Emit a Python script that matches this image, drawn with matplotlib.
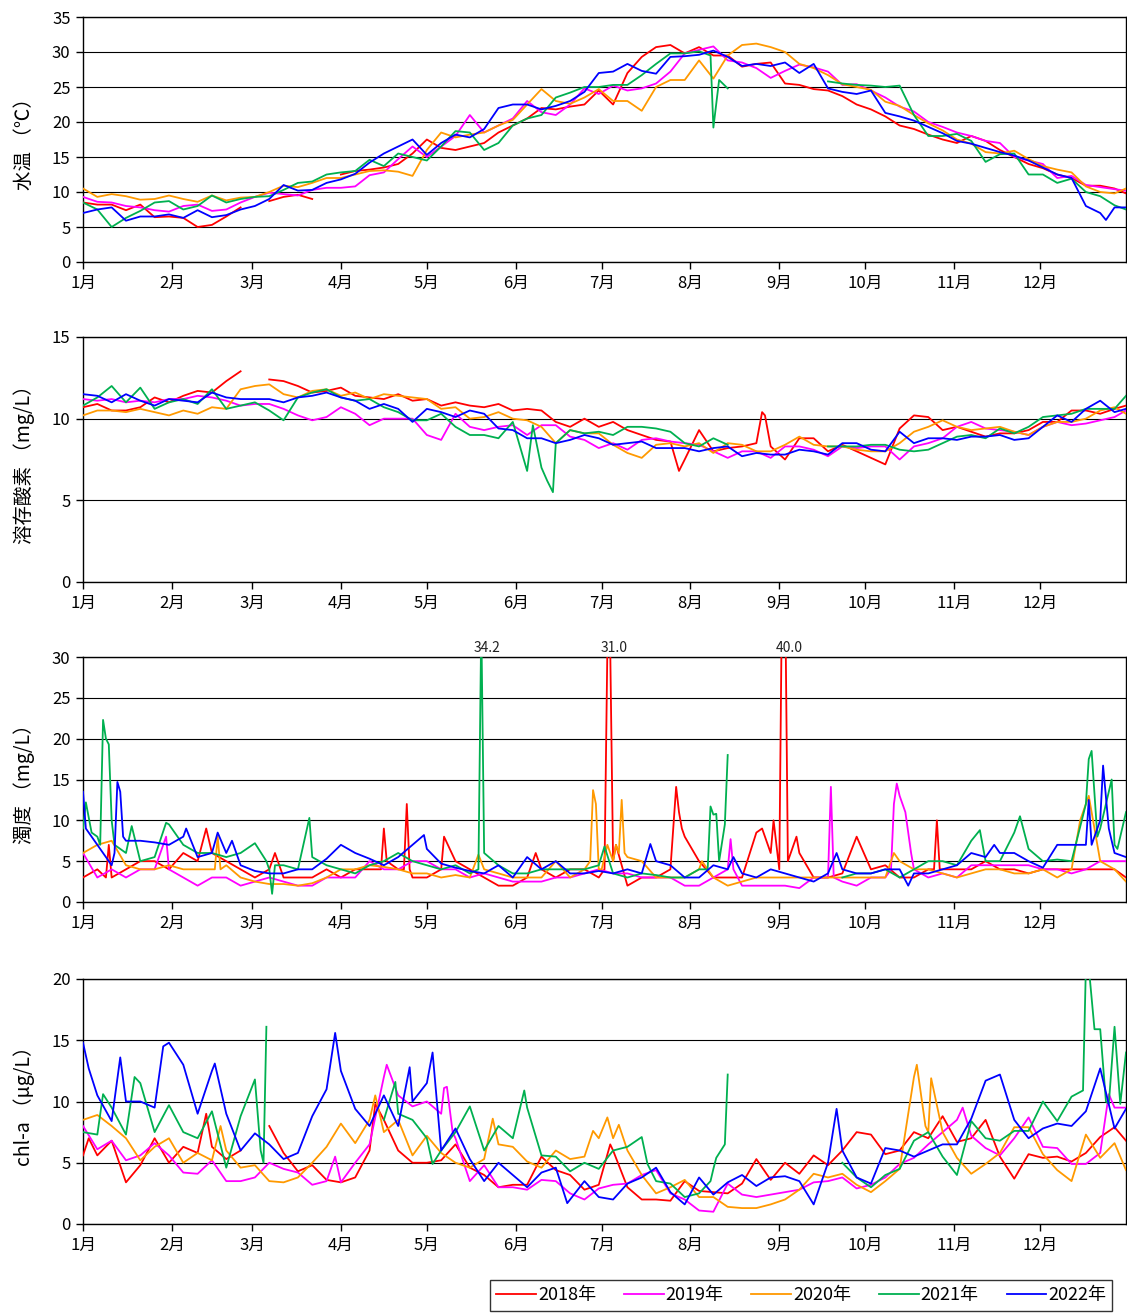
import numpy as np
import matplotlib
matplotlib.use('Agg')
import matplotlib.pyplot as plt

plt.rcParams['font.family'] = ['Noto Sans CJK JP', 'DejaVu Sans']

nan = np.nan
# sample days: every 5 days from Jan 1 (day 0) plus Dec 31 (day 364)
DAYS = np.append(np.arange(0, 361, 5), 364)

years = ['2018年', '2019年', '2020年', '2021年', '2022年']
colors = ['#FF0000', '#FF00FF', '#FF9900', '#00B050', '#0000FF']
month_days = [0, 31, 59, 90, 120, 151, 181, 212, 243, 273, 304, 334]
month_labels = ['1月', '2月', '3月', '4月', '5月', '6月', '7月', '8月', '9月', '10月', '11月', '12月']

# ---- 水温 ----
wt_2018 = [8.5, 8.2, 8.2, 7.4, 8.2, 6.4, 6.5, 6.3, 5.0, 5.3,
           6.5, 7.8, nan, 8.7, 9.3, 9.6, 9.0, nan, 12.5, 13.0,
           13.2, 13.5, 14.0, 15.5, 17.5, 16.3, 16.0, 16.5, 17.0, 18.5,
           19.5, 20.5, 22.0, 21.8, 22.2, 22.5, 24.5, 22.5, 27.0, 29.3,
           30.7, 31.0, 29.8, 30.7, 29.5, 29.5, 27.9, 28.3, 28.5, 25.5,
           25.3, 24.7, 24.5, 23.7, 22.5, 21.8, 20.8, 19.5, 19.0, 18.2,
           17.5, 17.0, 18.0, 17.3, 16.0, 15.0, 14.0, 13.4, 12.5, 12.0,
           10.9, 10.9, 10.5, 9.8]
wt_2019 = [9.3, 8.6, 8.5, 8.0, 7.8, 7.4, 7.2, 8.0, 8.2, 7.3,
           7.5, 8.5, 9.3, 9.9, 9.7, 9.5, 10.3, 10.6, 10.6, 10.8,
           12.4, 12.8, 14.7, 16.5, 15.0, 16.5, 18.0, 21.0, 18.5, 19.5,
           20.5, 23.0, 21.4, 21.0, 22.5, 24.8, 24.0, 25.2, 24.5, 24.8,
           25.5, 27.2, 29.8, 30.3, 30.8, 28.8, 28.5, 27.7, 26.3, 27.3,
           28.2, 27.8, 27.2, 25.3, 25.4, 24.5, 23.5, 22.2, 21.5, 20.0,
           19.3, 18.5, 18.0, 17.3, 17.0, 15.0, 14.5, 14.0, 12.0, 12.3,
           11.0, 10.7, 10.4, 10.2]
wt_2020 = [10.5, 9.3, 9.7, 9.4, 8.9, 9.0, 9.5, 9.0, 8.6, 9.5,
           8.8, 9.2, 9.3, 10.0, 10.9, 10.7, 11.3, 12.0, 12.0, 12.5,
           13.0, 13.1, 12.9, 12.3, 16.0, 18.5, 17.8, 18.2, 18.5, 19.5,
           20.3, 22.5, 24.7, 23.0, 22.6, 23.5, 24.7, 23.0, 23.0, 21.6,
           25.0, 26.0, 26.0, 28.8, 26.2, 29.5, 31.0, 31.2, 30.7, 30.0,
           28.3, 27.7, 26.7, 25.4, 25.0, 24.6, 22.9, 22.3, 21.0, 19.8,
           18.8, 17.5, 16.9, 15.7, 15.5, 15.9, 14.7, 13.7, 13.2, 12.8,
           10.8, 10.0, 9.8, 10.5]
wt_2021 = [8.5, 7.5, 5.0, 6.3, 7.3, 8.5, 8.7, 7.5, 8.0, 9.5,
           8.5, 9.0, 9.3, 9.4, 10.3, 11.3, 11.5, 12.5, 12.8, 13.0,
           14.6, 13.7, 15.5, 15.0, 14.5, 16.5, 18.7, 18.5, 16.0, 17.0,
           19.5, 20.5, 21.0, 23.5, 24.2, 25.0, 25.0, 25.3, 25.3, 26.7,
           28.3, 29.8, 29.8, 30.1, 19.2, 24.8, nan, nan, nan, nan,
           nan, nan, 25.8, 25.5, 25.3, 25.2, 25.0, 25.2, 21.0, 18.0,
           18.0, 18.3, 17.3, 14.3, 15.4, 15.5, 12.5, 12.5, 11.3, 11.9,
           10.0, 9.4, 8.1, 7.5]
wt_2021_pk = [(219, 29.5), (222, 26.0)]
wt_2022 = [7.0, 7.5, 7.8, 5.9, 6.5, 6.5, 6.8, 6.3, 7.4, 6.4,
           6.7, 7.5, 8.0, 9.0, 11.0, 10.2, 10.3, 11.3, 11.8, 12.6,
           14.2, 15.5, 16.5, 17.5, 15.3, 17.0, 18.2, 17.8, 19.0, 22.0,
           22.5, 22.5, 21.8, 22.3, 23.0, 24.3, 27.0, 27.2, 28.3, 27.3,
           26.9, 29.3, 29.4, 29.6, 30.2, 29.3, 28.0, 28.3, 28.0, 28.5,
           27.0, 28.3, 24.8, 24.3, 24.0, 24.5, 21.3, 20.8, 20.2, 19.3,
           18.4, 17.3, 16.9, 16.3, 15.7, 15.2, 14.5, 13.5, 12.5, 12.0,
           8.0, 7.0, 7.8, 7.8]
wt_2022_pk = [(357, 6.0)]

# ---- 溶存酸素 ----
do_2018 = [10.7, 10.9, 10.5, 10.5, 10.7, 11.3, 11.0, 11.4, 11.7, 11.6,
           12.3, 12.9, nan, 12.4, 12.3, 12.0, 11.6, 11.7, 11.9, 11.4,
           11.3, 11.2, 11.5, 11.1, 11.2, 10.8, 11.0, 10.8, 10.7, 10.9,
           10.5, 10.6, 10.5, 9.8, 9.5, 10.0, 9.5, 9.8, 9.3, 9.0,
           8.7, 8.6, 7.5, 9.3, 8.0, 8.2, 8.3, 8.5, 8.3, 7.5,
           8.8, 8.8, 8.0, 8.4, 8.0, 7.6, 7.2, 9.4, 10.2, 10.1,
           9.3, 9.5, 9.2, 8.9, 9.1, 9.1, 9.3, 9.8, 9.8, 10.5,
           10.5, 10.3, 10.6, 10.8]
do_2018_pk = [(208, 6.8), (237, 10.4), (238, 10.2)]
do_2019 = [11.2, 11.1, 11.2, 11.0, 11.1, 11.0, 11.2, 11.2, 11.4, 11.3,
           11.1, 10.8, 10.9, 10.9, 10.6, 10.2, 9.9, 10.1, 10.7, 10.3,
           9.6, 10.0, 10.0, 10.0, 9.0, 8.7, 10.3, 9.5, 9.3, 9.5,
           9.6, 9.0, 9.6, 9.6, 8.9, 8.7, 8.2, 8.5, 8.1, 8.7,
           8.8, 8.6, 8.5, 8.4, 8.0, 7.6, 8.0, 8.0, 7.6, 8.3,
           8.3, 8.1, 7.7, 8.3, 8.2, 8.3, 8.3, 7.5, 8.3, 8.5,
           8.8, 9.5, 9.8, 9.4, 9.3, 9.2, 9.0, 9.5, 9.8, 9.6,
           9.7, 9.9, 10.1, 10.5]
do_2020 = [10.2, 10.5, 10.5, 10.4, 10.6, 10.4, 10.2, 10.5, 10.3, 10.7,
           10.6, 11.8, 12.0, 12.1, 11.5, 11.3, 11.7, 11.8, 11.4, 11.6,
           11.2, 11.5, 11.4, 11.3, 11.2, 10.6, 10.7, 10.0, 10.1, 10.4,
           10.0, 9.9, 9.5, 8.5, 9.3, 9.1, 9.1, 8.4, 7.9, 7.6,
           8.4, 8.5, 8.3, 8.5, 7.9, 8.5, 8.4, 8.0, 8.0, 8.4,
           8.9, 8.4, 8.3, 8.3, 8.1, 8.0, 8.0, 8.5, 9.2, 9.5,
           9.9, 9.5, 9.3, 9.4, 9.5, 9.2, 9.0, 9.5, 9.8, 9.8,
           10.0, 10.5, 10.7, 10.3]
do_2021 = [10.8, 11.3, 12.0, 11.0, 11.9, 10.6, 11.0, 11.2, 10.9, 11.8,
           10.6, 10.8, 11.0, 10.5, 9.9, 11.3, 11.6, 11.8, 11.3, 11.1,
           11.2, 10.7, 10.4, 9.9, 9.9, 10.3, 9.5, 9.0, 9.0, 8.8,
           9.8, 6.8, 7.0, 8.5, 9.3, 9.1, 9.2, 9.0, 9.5, 9.5,
           9.4, 9.2, 8.5, 8.3, 8.8, 8.4, nan, nan, nan, nan,
           nan, nan, 8.3, 8.3, 8.3, 8.4, 8.4, 8.1, 8.0, 8.1,
           8.5, 8.9, 9.0, 8.8, 9.4, 9.1, 9.5, 10.1, 10.2, 10.3,
           10.6, 10.6, 10.6, 11.4]
do_2021_pk = [(157, 9.6), (162, 6.2), (164, 5.5)]
do_2022 = [11.5, 11.4, 11.0, 11.5, 11.1, 10.8, 11.2, 11.1, 11.0, 11.6,
           11.3, 11.2, 11.2, 11.2, 11.0, 11.3, 11.4, 11.6, 11.3, 11.1,
           10.6, 10.9, 10.6, 9.8, 10.6, 10.4, 10.1, 10.5, 10.3, 9.4,
           9.3, 8.8, 8.8, 8.5, 8.7, 9.0, 8.8, 8.4, 8.5, 8.6,
           8.2, 8.2, 8.2, 8.0, 8.2, 8.3, 7.7, 7.9, 7.8, 7.8,
           8.1, 8.0, 7.8, 8.5, 8.5, 8.1, 8.0, 9.2, 8.5, 8.8,
           8.8, 8.7, 8.9, 8.9, 9.0, 8.7, 8.8, 9.5, 10.2, 9.8,
           10.6, 11.1, 10.4, 10.6]

# ---- 濁度 ----
tb_2018 = [3, 4, 4, 4, 5, 5, 4, 6, 5, 6,
           5, 4, 3, 4, 3, 3, 3, 4, 3, 4,
           4, 5, 4, 3, 3, 4, 5, 4, 3, 2,
           2, 3, 4, 3, 4, 4, 3, 5, 2, 3,
           3, 4, 8, 5, 3, 3, 3, 8.5, 6, 3,
           6, 3, 3, 3.5, 7.5, 4, 4.5, 3, 3, 4,
           4, 4, 4, 5, 4, 4, 3.5, 4, 4, 4,
           4, 4, 4, 3]
tb_2018_pk = [(8, 3), (9, 7), (10, 3), (43, 9), (67, 6), (104, 4), (105, 9), (106, 5),
              (112, 4), (113, 12), (114, 4), (126, 8), (158, 6), (182, 4), (183, 31.0),
              (184, 31.0), (186, 7), (207, 14.1), (208, 11), (209, 9), (237, 9), (241, 10),
              (243, 4), (244, 40.0), (245, 40.0), (246, 5), (249, 8), (270, 8),
              (297, 4), (298, 10), (299, 4)]
tb_2019 = [6, 3, 4, 3, 4, 4, 4, 3, 2, 3,
           3, 2, 2.5, 3, 2.5, 2, 2, 3, 3, 3,
           5, 4, 4, 5, 5, 4, 4, 3, 3.5, 3,
           2.5, 2.5, 2.5, 3, 3, 3.5, 4, 3.5, 3.5, 3,
           3, 3, 2, 2, 3, 6, 2, 2, 2, 2,
           1.7, 3, 3, 2.5, 2, 3, 3, 13, 4, 3,
           3.5, 3, 4.5, 4.5, 4.5, 4.5, 4.5, 4, 4, 3.5,
           4, 5, 5, 5]
tb_2019_pk = [(29, 8), (225, 4), (226, 7.7), (227, 4), (260, 3), (261, 14.1), (262, 3),
              (282, 4), (283, 12), (284, 14.5), (287, 11), (289, 6)]
tb_2020 = [6, 7, 7.5, 4.5, 4, 4, 4.5, 4, 4, 4,
           4.5, 3, 2.5, 2.2, 2.2, 2, 2.3, 3, 4, 4,
           4.5, 4.3, 4, 3.5, 3.5, 3, 3.3, 3, 4, 3.5,
           3, 3, 3, 5, 3, 4, 4, 5, 5.5, 5,
           3, 3, 3, 4, 3, 2, 2.5, 3, 3, 3,
           3, 3, 3, 3, 3, 3, 3, 5, 4, 4,
           3.5, 3, 3.5, 4, 4, 3.5, 3.5, 4, 3, 4,
           12, 5, 4, 2.5]
tb_2020_pk = [(46, 4), (47, 8), (48, 4), (138, 5.8), (177, 5), (178, 13.7), (179, 12.0),
              (181, 4), (183, 7), (186, 7), (187, 6), (188, 12.5), (189, 6), (216, 5),
              (283, 6), (348, 10), (351, 13)]
tb_2021 = [9, 8, 10, 6, 5, 5.5, 9.5, 7, 6, 6,
           5.5, 6, 7.2, 4, 4.5, 4, 5.5, 4.5, 4, 3.5,
           4.5, 5, 6, 5, 4.5, 4, 4.5, 3.5, 6, 4.5,
           3.5, 3.5, 4, 4, 4, 4, 4.5, 3.5, 3, 3.5,
           3.3, 3, 3, 4, 10.7, 18, nan, nan, nan, nan,
           nan, nan, nan, 3, 3.5, 3.5, 4, 3, 4, 5,
           5, 4.5, 7.5, 5, 5, 8.5, 6.5, 5, 5.2, 5,
           12, 9, 7, 11]
tb_2021_pk = [(1, 12.2), (3, 8.5), (6, 7), (7, 22.3), (8, 20.0), (9, 19.3), (11, 7),
              (17, 9.3), (29, 9.7), (64, 5), (66, 1.0), (67, 4.5), (79, 10.3),
              (138, 4), (139, 34.2), (140, 6), (182, 6.8), (218, 4), (219, 11.7),
              (221, 10.8), (222, 5), (224, 9.5), (313, 8.8), (327, 10.5),
              (351, 17.5), (352, 18.5), (354, 8), (359, 15), (361, 6.5)]
tb_2022 = [13.5, 7, 4.5, 7.5, 7.5, 7.3, 7, 8, 5.5, 6,
           6, 4.5, 3.8, 3.5, 3.5, 4, 4, 5.3, 7, 6,
           5.3, 4.5, 5.5, 7, 6.5, 4.7, 4.2, 3.8, 3.5, 4.5,
           3, 5.5, 4, 5, 3.5, 3.5, 3.8, 3.5, 4, 3.5,
           5, 4.5, 3, 3, 4.5, 4, 3.5, 3, 4, 3.5,
           3, 2.5, 3.5, 4, 3.5, 3.5, 4, 4, 3.5, 3.5,
           4, 4.5, 6, 5.5, 6, 6, 5, 4.2, 7, 7,
           6.5, 10, 6, 5.5]
tb_2022_pk = [(1, 9), (11, 6), (12, 14.7), (13, 13.5), (14, 8), (36, 9), (47, 8.5),
              (52, 7.5), (119, 8.2), (198, 7.1), (227, 5.5), (263, 6), (288, 2),
              (318, 7), (350, 7), (351, 12.5), (352, 7), (354, 9), (356, 16.7), (358, 9)]

# ---- chl-a ----
ch_2018 = [5.6, 5.6, 6.8, 3.5, 4.8, 7.0, 5.0, 6.3, 5.8, 6.3,
           5.3, 6.0, nan, 8.0, 5.8, 4.3, 4.8, 3.6, 3.4, 3.8,
           6.0, 8.5, 6.0, 5.0, 5.0, 5.2, 6.5, 4.6, 4.0, 3.0,
           3.2, 3.2, 5.5, 4.4, 4.0, 2.8, 3.2, 6.0, 3.0, 2.0,
           2.0, 1.9, 3.5, 2.7, 2.6, 2.5, 3.3, 5.3, 3.6, 5.0,
           4.1, 5.6, 4.8, 6.0, 7.5, 7.3, 5.7, 6.0, 7.5, 7.0,
           8.8, 6.7, 7.0, 8.5, 5.5, 3.7, 5.7, 5.4, 5.5, 5.1,
           5.8, 7.1, 7.9, 6.8]
ch_2018_pk = [(2, 7.0), (15, 3.4), (43, 9.0), (102, 9.8), (184, 6.5)]
ch_2019 = [8.0, 6.1, 6.8, 5.2, 5.6, 6.6, 5.6, 4.2, 4.1, 5.2,
           3.5, 3.5, 3.8, 5.0, 4.5, 4.2, 3.2, 3.5, 3.4, 5.0,
           6.5, 12.0, 10.5, 9.6, 10.0, 9.0, 7.0, 3.5, 4.8, 3.0,
           3.0, 2.8, 3.6, 3.5, 2.5, 2.0, 2.9, 3.2, 3.3, 4.0,
           4.4, 2.5, 2.0, 1.1, 1.0, 3.3, 2.4, 2.2, 2.4, 2.6,
           2.8, 3.4, 3.5, 3.8, 2.9, 3.2, 3.8, 4.9, 5.4, 6.5,
           7.5, 8.5, 7.2, 6.2, 5.6, 7.0, 8.7, 6.3, 6.2, 4.9,
           4.9, 5.8, 9.5, 9.5]
ch_2019_pk = [(88, 5.5), (106, 13.0), (126, 11.1), (127, 11.2), (129, 7.5), (307, 9.5), (358, 10.6)]
ch_2020 = [8.5, 8.9, 8.0, 7.0, 5.2, 6.3, 7.0, 5.0, 5.8, 5.2,
           6.0, 4.6, 4.8, 3.5, 3.4, 3.8, 5.0, 6.3, 8.2, 6.6,
           8.5, 7.5, 8.5, 5.6, 7.2, 5.8, 5.0, 4.6, 5.3, 6.5,
           6.3, 5.1, 4.6, 6.0, 5.3, 5.5, 7.0, 7.0, 6.0, 4.0,
           2.5, 3.0, 3.6, 2.2, 2.2, 1.4, 1.3, 1.3, 1.6, 2.0,
           2.8, 4.1, 3.8, 4.1, 3.2, 2.6, 3.5, 4.5, 12.0, 7.5,
           7.5, 5.4, 4.1, 4.9, 5.8, 7.9, 7.9, 5.7, 4.4, 3.5,
           7.3, 5.4, 6.6, 4.4]
ch_2020_pk = [(48, 8.0), (102, 10.5), (143, 8.6), (178, 7.6), (183, 8.7), (187, 8.1),
              (291, 13.0), (294, 8.0), (296, 11.9)]
ch_2021 = [7.5, 7.3, 9.5, 7.3, 11.5, 7.5, 9.0, 7.5, 7.0, 9.2,
           4.6, 8.8, 11.8, nan, nan, nan, nan, nan, nan, nan,
           nan, 8.5, 9.0, 8.5, 7.0, 6.0, 7.5, 9.6, 6.0, 8.0,
           7.0, 9.5, 5.6, 5.5, 4.3, 5.0, 4.5, 6.0, 6.3, 7.1,
           3.5, 3.3, 2.2, 2.5, 4.5, 12.2, nan, nan, nan, nan,
           nan, nan, nan, 5.0, 3.8, 3.0, 4.0, 4.5, 6.8, 7.5,
           5.5, 4.0, 8.4, 7.0, 6.8, 7.6, 7.6, 10.0, 8.4, 10.4,
           21.0, 15.9, 16.1, 14.0]
ch_2021_pk = [(7, 10.6), (18, 12.0), (30, 9.7), (62, 6.0), (63, 5.0), (64, 16.1),
              (109, 11.6), (122, 4.9), (154, 10.9), (197, 4.9), (219, 3.5), (221, 5.4),
              (224, 6.5), (349, 10.9), (351, 21.0), (353, 15.9), (357, 10.0),
              (358, 9.8), (362, 9.8)]
ch_2022 = [14.8, 10.5, 8.4, 10.0, 10.0, 9.5, 14.8, 13.0, 9.0, 12.5,
           9.0, 6.0, 7.4, 6.5, 5.3, 5.8, 8.8, 11.0, 12.5, 9.4,
           8.0, 10.5, 8.0, 10.0, 11.5, 6.0, 7.8, 5.3, 3.5, 5.0,
           4.0, 3.0, 4.2, 4.6, 2.0, 3.5, 2.2, 2.0, 3.3, 3.8,
           4.6, 2.6, 1.6, 3.8, 2.4, 3.4, 4.0, 3.1, 3.8, 3.9,
           3.5, 1.6, 5.0, 6.0, 3.8, 3.3, 6.2, 6.0, 5.5, 6.0,
           6.5, 6.5, 8.6, 11.7, 12.2, 8.5, 7.0, 7.8, 8.2, 8.0,
           9.2, 12.7, 7.8, 9.4]
ch_2022_pk = [(2, 12.7), (13, 13.6), (28, 14.5), (46, 13.1), (88, 15.6), (114, 12.8),
              (122, 14.0), (169, 1.7), (263, 9.4)]


def build(base, peaks=()):
    d = [int(x) for x in DAYS]
    v = list(base)
    for dd, vv in peaks:
        if dd in d:
            v[d.index(dd)] = vv
        else:
            d.append(dd)
            v.append(vv)
    order = np.argsort(d)
    return np.asarray(d)[order], np.asarray(v, dtype=float)[order]


panels = [
    ([(wt_2018, ()), (wt_2019, ()), (wt_2020, ()), (wt_2021, wt_2021_pk), (wt_2022, wt_2022_pk)],
     '水温 （℃）', 35),
    ([(do_2018, do_2018_pk), (do_2019, ()), (do_2020, ()), (do_2021, do_2021_pk), (do_2022, ())],
     '溶存酸素 （mg/L）', 15),
    ([(tb_2018, tb_2018_pk), (tb_2019, tb_2019_pk), (tb_2020, tb_2020_pk), (tb_2021, tb_2021_pk),
      (tb_2022, tb_2022_pk)], '濁度 （mg/L）', 30),
    ([(ch_2018, ch_2018_pk), (ch_2019, ch_2019_pk), (ch_2020, ch_2020_pk), (ch_2021, ch_2021_pk),
      (ch_2022, ch_2022_pk)], 'chl-a （μg/L）', 20),
]
# labels for values beyond the turbidity axis
over_labels = [(139, '34.2'), (183.5, '31.0'), (244.5, '40.0')]

W, H = 1127, 1314
fig = plt.figure(figsize=(W / 100, H / 100), dpi=100)
tops = [17, 337, 657, 979]
axes = []
for (series, ylabel, ymax), top in zip(panels, tops):
    ax = fig.add_axes([83 / W, 1 - (top + 245) / H, 1043 / W, 245 / H])
    for (base, pk), c, y in zip(series, colors, years):
        x, v = build(base, pk)
        ax.plot(x, v, color=c, lw=1.3, label=y, zorder=3)
    ax.set_xlim(0, 364)
    ax.set_ylim(0, ymax)
    ax.set_yticks(np.arange(0, ymax + 1, 5))
    ax.set_xticks(month_days)
    ax.set_xticklabels(month_labels)
    ax.yaxis.grid(True, color='black', lw=0.8, zorder=1)
    ax.set_axisbelow(True)
    for s in ax.spines.values():
        s.set_color('black')
        s.set_linewidth(1.0)
    ax.tick_params(direction='out', length=5, width=1, labelsize=12, pad=4)
    ax.set_ylabel(ylabel, fontsize=14)
    ax.yaxis.set_label_coords(-0.046, 0.5)
    axes.append(ax)

for d, t in over_labels:
    axes[2].text(d + 2, 30.2, t, ha='center', va='bottom', fontsize=10,
                 color='#222222', clip_on=False)

handles, labels = axes[0].get_legend_handles_labels()
leg = fig.legend(handles, labels, loc='upper left', bbox_to_anchor=(490 / W, 1 - 1280 / H),
                 ncol=5, fontsize=13, frameon=True, fancybox=False, edgecolor='black',
                 handlelength=2.2, handletextpad=0.1, columnspacing=1.55, borderpad=0.35,
                 borderaxespad=0)
leg.get_frame().set_linewidth(1.0)

fig.savefig('out.png', dpi=100)
